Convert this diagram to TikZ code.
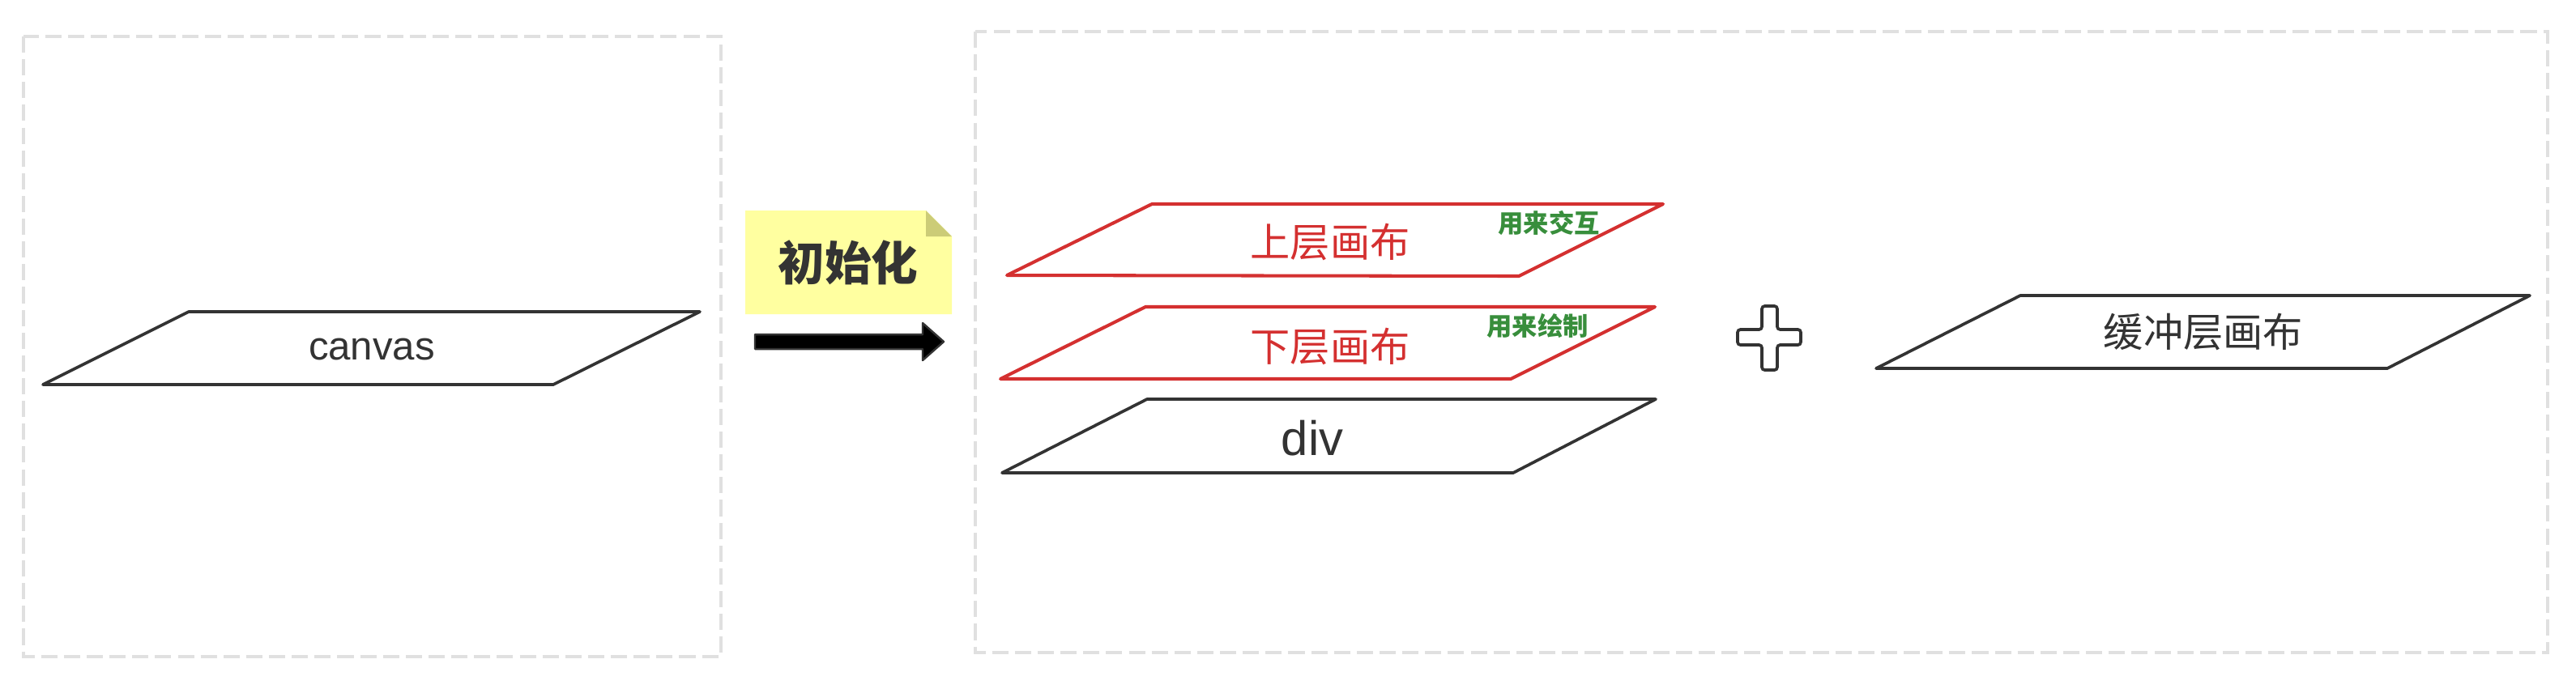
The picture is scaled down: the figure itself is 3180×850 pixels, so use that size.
\documentclass[tikz,border=0pt]{standalone}
\usepackage{fontspec}
\setmainfont{Liberation Sans}
\newfontfamily\cjk{Noto Sans CJK SC}
\definecolor{dashgray}{RGB}{224,224,224}
\definecolor{dark}{RGB}{51,51,51}
\definecolor{lred}{RGB}{212,48,48}
\definecolor{lgreen}{RGB}{56,142,60}
\definecolor{notefill}{RGB}{255,255,160}
\definecolor{notefold}{RGB}{204,204,119}
\begin{document}
\begin{tikzpicture}[x=0.01cm,y=-0.01cm,
  dashbox/.style={draw=dashgray, line width=1.1pt, dash pattern=on 5.7pt off 2.3pt},
  layer/.style={draw=dark, line width=1.05pt, line join=round},
  redlayer/.style={draw=lred, line width=1.15pt, line join=round},
  maintext/.style={text=dark, inner sep=0pt, font=\cjk\fontsize{14pt}{16pt}\selectfont},
  redtext/.style={text=lred, inner sep=0pt, font=\cjk\fontsize{14pt}{16pt}\selectfont},
  greentext/.style={text=lgreen, inner sep=0pt, font=\cjk\bfseries\fontsize{8.9pt}{10pt}\selectfont},
  latintext/.style={text=dark, inner sep=0pt}
]
\useasboundingbox (0,0) rectangle (3180,850);

% dashed frames
\draw[dashbox] (29,45) rectangle (890,811);
\draw[dashbox] (1204,39) rectangle (3145,806);

% canvas layer
\coordinate (cBL) at (53,475);
\coordinate (cTL) at (233,385);
\coordinate (cTR) at (864,385);
\coordinate (cBR) at (683,475);
\draw[layer] (cBL) -- (cTL) -- (cTR) -- (cBR) -- cycle;
\node[latintext, font=\fontsize{14pt}{16pt}\selectfont] (canvas) at (459,431) {canvas};

% note
\coordinate (nTL) at (920,260);
\coordinate (nF1) at (1143,260);
\coordinate (nF2) at (1175,292);
\coordinate (nBR) at (1175,388);
\coordinate (nBL) at (920,388);
\coordinate (nFC) at (1143,292);
\fill[notefill] (nTL) -- (nF1) -- (nF2) -- (nBR) -- (nBL) -- cycle;
\fill[notefold] (nF1) -- (nF2) -- (nFC) -- cycle;
\node[text=dark, inner sep=0pt, font=\cjk\bfseries\fontsize{16.4pt}{18pt}\selectfont] (init) at (1047,324) {初始化};

% block arrow
\coordinate (a1) at (932,413);
\coordinate (a2) at (1139,413);
\coordinate (a3) at (1139,399);
\coordinate (a4) at (1165,422);
\coordinate (a5) at (1139,445);
\coordinate (a6) at (1139,431);
\coordinate (a7) at (932,431);
\filldraw[fill=black, draw=dark, line width=0.7pt, line join=round] (a1) -- (a2) -- (a3) -- (a4) -- (a5) -- (a6) -- (a7) -- cycle;

% upper canvas
\coordinate (uBL) at (1243,340);
\coordinate (uTL) at (1422,252);
\coordinate (uTR) at (2053,252);
\coordinate (uBR) at (1875,341);
\draw[redlayer] (uBL) -- (uTL) -- (uTR) -- (uBR) -- cycle;
\node[redtext] (upper) at (1642,299) {上层画布};
\node[greentext] (interact) at (1912,275) {用来交互};

% lower canvas
\coordinate (lBL) at (1235,468);
\coordinate (lTL) at (1414,379);
\coordinate (lTR) at (2043,379);
\coordinate (lBR) at (1865,468);
\draw[redlayer] (lBL) -- (lTL) -- (lTR) -- (lBR) -- cycle;
\node[redtext] (lower) at (1642,428) {下层画布};
\node[greentext] (draw) at (1898,402) {用来绘制};

% div
\coordinate (dBL) at (1237,584);
\coordinate (dTL) at (1416,493);
\coordinate (dTR) at (2044,493);
\coordinate (dBR) at (1868,584);
\draw[layer] (dBL) -- (dTL) -- (dTR) -- (dBR) -- cycle;
\node[latintext, font=\fontsize{17pt}{19pt}\selectfont] (div) at (1620,541) {div};

% plus
\coordinate (p1) at (2175,378);
\coordinate (p2) at (2194,378);
\coordinate (p3) at (2194,407);
\coordinate (p4) at (2223,407);
\coordinate (p5) at (2223,426);
\coordinate (p6) at (2194,426);
\coordinate (p7) at (2194,457);
\coordinate (p8) at (2175,457);
\coordinate (p9) at (2175,426);
\coordinate (p10) at (2145,426);
\coordinate (p11) at (2145,407);
\coordinate (p12) at (2175,407);
\filldraw[fill=white, draw=dark, line width=1.05pt, rounded corners=1pt] (p1) -- (p2) -- (p3) -- (p4) -- (p5) -- (p6) -- (p7) -- (p8) -- (p9) -- (p10) -- (p11) -- (p12) -- cycle;

% buffer canvas
\coordinate (bBL) at (2316,455);
\coordinate (bTL) at (2494,365);
\coordinate (bTR) at (3123,365);
\coordinate (bBR) at (2947,455);
\draw[layer] (bBL) -- (bTL) -- (bTR) -- (bBR) -- cycle;
\node[maintext] (buffer) at (2720,410) {缓冲层画布};
\end{tikzpicture}
\end{document}
